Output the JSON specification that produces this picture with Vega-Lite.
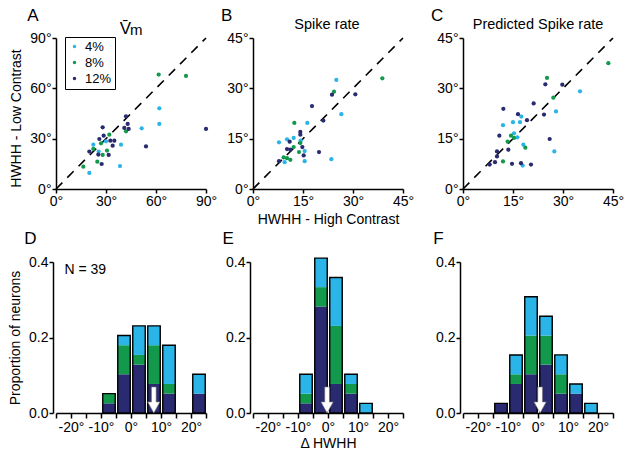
{
  "$schema": "https://vega.github.io/schema/vega-lite/v6.json",
  "padding": {"left": 8, "top": 6, "right": 2, "bottom": 2},
  "config": {
    "font": "Liberation Sans",
    "view": {"stroke": null},
    "axis": {"grid": false, "domainColor": "black", "domainWidth": 1.5, "tickColor": "black", "tickWidth": 1.5, "tickSize": 4, "labelFontSize": 14, "labelColor": "black", "labelFont": "Liberation Sans", "titleFont": "Liberation Sans", "titleFontSize": 14, "titleFontWeight": "normal", "titleColor": "black", "labelPadding": 1, "labelFlush": false, "labelOverlap": false, "labelBound": false},
    "text": {"font": "Liberation Sans", "color": "black"}
  },
  "columns": 3,
  "spacing": {"row": 73, "column": 47},
  "bounds": "flush",
  "resolve": {"scale": {"color": "independent"}},
  "datasets": {
    "A": [
      {"con": 4, "x": 62, "y": 48.1}, {"con": 4, "x": 62, "y": 38.8}, {"con": 4, "x": 51.4, "y": 36.2}, {"con": 4, "x": 30, "y": 28.4}, {"con": 4, "x": 22.4, "y": 26.4}, {"con": 4, "x": 39, "y": 26.4}, {"con": 4, "x": 25.6, "y": 22.3}, {"con": 4, "x": 38.4, "y": 13.7}, {"con": 4, "x": 20, "y": 9.6},
      {"con": 8, "x": 61.6, "y": 68.2}, {"con": 8, "x": 78, "y": 67.4}, {"con": 8, "x": 42, "y": 34.4}, {"con": 8, "x": 32, "y": 32.4}, {"con": 8, "x": 27, "y": 27.2}, {"con": 8, "x": 22.4, "y": 23.9}, {"con": 8, "x": 30.6, "y": 22.9}, {"con": 8, "x": 28, "y": 20.3}, {"con": 8, "x": 24.8, "y": 16.3}, {"con": 8, "x": 16.4, "y": 13.3},
      {"con": 12, "x": 42, "y": 43.3}, {"con": 12, "x": 43, "y": 38.8}, {"con": 12, "x": 41, "y": 36.4}, {"con": 12, "x": 43.6, "y": 35.8}, {"con": 12, "x": 90, "y": 35.8}, {"con": 12, "x": 28, "y": 36.8}, {"con": 12, "x": 28.6, "y": 31.8}, {"con": 12, "x": 26, "y": 29.8}, {"con": 12, "x": 32.6, "y": 28.8}, {"con": 12, "x": 35, "y": 28.8}, {"con": 12, "x": 34, "y": 25.8}, {"con": 12, "x": 54, "y": 25.4}, {"con": 12, "x": 20, "y": 22.3}, {"con": 12, "x": 25.4, "y": 20.5}, {"con": 12, "x": 31.6, "y": 20.3}, {"con": 12, "x": 27.4, "y": 14.9}
    ],
    "B": [
      {"con": 4, "x": 25, "y": 32.5}, {"con": 4, "x": 26.5, "y": 22.3}, {"con": 4, "x": 16.3, "y": 19.7}, {"con": 4, "x": 7.8, "y": 13.9}, {"con": 4, "x": 10.2, "y": 14.8}, {"con": 4, "x": 12.2, "y": 15.2}, {"con": 4, "x": 14.3, "y": 14.4}, {"con": 4, "x": 15.5, "y": 11.3}, {"con": 4, "x": 23.5, "y": 8.9}, {"con": 4, "x": 15.5, "y": 8.3}, {"con": 4, "x": 9.5, "y": 8.0},
      {"con": 8, "x": 38.8, "y": 33.0}, {"con": 8, "x": 24.3, "y": 29.0}, {"con": 8, "x": 12.4, "y": 19.7}, {"con": 8, "x": 14.2, "y": 13.7}, {"con": 8, "x": 12.2, "y": 12.5}, {"con": 8, "x": 13.8, "y": 11.0}, {"con": 8, "x": 9.2, "y": 9.4}, {"con": 8, "x": 10.2, "y": 9.2}, {"con": 8, "x": 11.2, "y": 8.7},
      {"con": 12, "x": 23.7, "y": 28.1}, {"con": 12, "x": 30.7, "y": 28.2}, {"con": 12, "x": 17.7, "y": 24.7}, {"con": 12, "x": 21.1, "y": 20.4}, {"con": 12, "x": 14.2, "y": 17.0}, {"con": 12, "x": 14.2, "y": 16.2}, {"con": 12, "x": 11, "y": 14.1}, {"con": 12, "x": 10.2, "y": 11.9}, {"con": 12, "x": 11.2, "y": 11.7}, {"con": 12, "x": 14.8, "y": 12.5}, {"con": 12, "x": 15.2, "y": 10.0}, {"con": 12, "x": 19.8, "y": 11.0}, {"con": 12, "x": 7.8, "y": 8.3}
    ],
    "C": [
      {"con": 4, "x": 35.1, "y": 29.1}, {"con": 4, "x": 17.5, "y": 21.6}, {"con": 4, "x": 27.9, "y": 23.1}, {"con": 4, "x": 15.0, "y": 19.9}, {"con": 4, "x": 17.1, "y": 19.9}, {"con": 4, "x": 12.0, "y": 19.0}, {"con": 4, "x": 15.3, "y": 16.6}, {"con": 4, "x": 16.3, "y": 15.4}, {"con": 4, "x": 18.1, "y": 13.2}, {"con": 4, "x": 27.4, "y": 11.2}, {"con": 4, "x": 17.9, "y": 7.0},
      {"con": 8, "x": 43.6, "y": 37.5}, {"con": 8, "x": 25.2, "y": 33.1}, {"con": 8, "x": 27.1, "y": 27.2}, {"con": 8, "x": 14.4, "y": 15.9}, {"con": 8, "x": 15.3, "y": 15.2}, {"con": 8, "x": 13.4, "y": 14.1}, {"con": 8, "x": 18.7, "y": 12.3}, {"con": 8, "x": 12.0, "y": 8.2},
      {"con": 12, "x": 24.7, "y": 31.2}, {"con": 12, "x": 29.8, "y": 31.1}, {"con": 12, "x": 21.2, "y": 25.5}, {"con": 12, "x": 12.1, "y": 23.9}, {"con": 12, "x": 16.5, "y": 22.3}, {"con": 12, "x": 19.2, "y": 20.5}, {"con": 12, "x": 24.3, "y": 22.2}, {"con": 12, "x": 10.9, "y": 15.9}, {"con": 12, "x": 26.0, "y": 14.9}, {"con": 12, "x": 13.6, "y": 11.7}, {"con": 12, "x": 10.2, "y": 11.2}, {"con": 12, "x": 10.2, "y": 9.7}, {"con": 12, "x": 9.6, "y": 8.0}, {"con": 12, "x": 8.0, "y": 7.3}, {"con": 12, "x": 14.7, "y": 7.5}, {"con": 12, "x": 17.4, "y": 7.7}, {"con": 12, "x": 20.4, "y": 7.3}
    ],
    "D": [
      {"lo": -10, "hi": -5, "con": 12, "p": 0.0256}, {"lo": -10, "hi": -5, "con": 8, "p": 0.0256},
      {"lo": -5, "hi": 0, "con": 12, "p": 0.1026}, {"lo": -5, "hi": 0, "con": 8, "p": 0.0769}, {"lo": -5, "hi": 0, "con": 4, "p": 0.0256},
      {"lo": 0, "hi": 5, "con": 12, "p": 0.1282}, {"lo": 0, "hi": 5, "con": 8, "p": 0.0256}, {"lo": 0, "hi": 5, "con": 4, "p": 0.0769},
      {"lo": 5, "hi": 10, "con": 12, "p": 0.0769}, {"lo": 5, "hi": 10, "con": 8, "p": 0.1026}, {"lo": 5, "hi": 10, "con": 4, "p": 0.0513},
      {"lo": 10, "hi": 15, "con": 12, "p": 0.0513}, {"lo": 10, "hi": 15, "con": 8, "p": 0.0256}, {"lo": 10, "hi": 15, "con": 4, "p": 0.1026},
      {"lo": 20, "hi": 25, "con": 12, "p": 0.0513}, {"lo": 20, "hi": 25, "con": 4, "p": 0.0513}
    ],
    "E": [
      {"lo": -10, "hi": -5, "con": 12, "p": 0.0256}, {"lo": -10, "hi": -5, "con": 8, "p": 0.0256}, {"lo": -10, "hi": -5, "con": 4, "p": 0.0513},
      {"lo": -5, "hi": 0, "con": 12, "p": 0.2821}, {"lo": -5, "hi": 0, "con": 8, "p": 0.0513}, {"lo": -5, "hi": 0, "con": 4, "p": 0.0769},
      {"lo": 0, "hi": 5, "con": 12, "p": 0.0769}, {"lo": 0, "hi": 5, "con": 8, "p": 0.1538}, {"lo": 0, "hi": 5, "con": 4, "p": 0.1282},
      {"lo": 5, "hi": 10, "con": 12, "p": 0.0513}, {"lo": 5, "hi": 10, "con": 8, "p": 0.0256}, {"lo": 5, "hi": 10, "con": 4, "p": 0.0256},
      {"lo": 10, "hi": 15, "con": 4, "p": 0.0256}
    ],
    "F": [
      {"lo": -15, "hi": -10, "con": 12, "p": 0.0256},
      {"lo": -10, "hi": -5, "con": 12, "p": 0.0769}, {"lo": -10, "hi": -5, "con": 8, "p": 0.0256}, {"lo": -10, "hi": -5, "con": 4, "p": 0.0513},
      {"lo": -5, "hi": 0, "con": 12, "p": 0.1026}, {"lo": -5, "hi": 0, "con": 8, "p": 0.1026}, {"lo": -5, "hi": 0, "con": 4, "p": 0.1026},
      {"lo": 0, "hi": 5, "con": 12, "p": 0.1282}, {"lo": 0, "hi": 5, "con": 8, "p": 0.0769}, {"lo": 0, "hi": 5, "con": 4, "p": 0.0513},
      {"lo": 5, "hi": 10, "con": 12, "p": 0.0513}, {"lo": 5, "hi": 10, "con": 8, "p": 0.0513}, {"lo": 5, "hi": 10, "con": 4, "p": 0.0513},
      {"lo": 10, "hi": 15, "con": 12, "p": 0.0513}, {"lo": 10, "hi": 15, "con": 4, "p": 0.0256},
      {"lo": 15, "hi": 20, "con": 4, "p": 0.0256}
    ]
  },
  "concat": [
    {
      "width": 150, "height": 151,
      "layer": [
        {"data": {"values": [{"x": 0, "y": 0, "x2": 90, "y2": 90}]}, "mark": {"type": "rule", "strokeDash": [9, 7], "strokeWidth": 1.6, "color": "black"},
         "encoding": {
           "x": {"field": "x", "type": "quantitative", "scale": {"domain": [0, 90], "nice": false}, "axis": {"values": [0, 30, 60, 90], "labelExpr": "datum.value + '°'", "title": null}},
           "y": {"field": "y", "type": "quantitative", "scale": {"domain": [0, 90], "nice": false}, "axis": {"values": [0, 30, 60, 90], "labelExpr": "datum.value + '°'", "title": "HWHH - Low Contrast", "titlePadding": 6, "titleY": 80}},
           "x2": {"field": "x2"}, "y2": {"field": "y2"}}},
        {"data": {"name": "A"}, "mark": {"type": "point", "filled": true, "size": 18, "opacity": 1},
         "encoding": {
           "x": {"field": "x", "type": "quantitative"}, "y": {"field": "y", "type": "quantitative"},
           "color": {"field": "con", "type": "ordinal", "scale": {"domain": [4, 8, 12], "range": ["#2ab4e8", "#12994c", "#292a6f"]},
             "legend": {"orient": "none", "legendX": 9, "legendY": -1, "title": null, "strokeColor": "black", "padding": 3, "labelFontSize": 13, "labelFont": "Liberation Sans", "labelColor": "black", "symbolType": "circle", "symbolSize": 12, "rowPadding": 2, "labelOffset": 4, "labelExpr": "datum.label + '%'"}}}},
        {"data": {"values": [{}]}, "mark": {"type": "text", "text": "A", "fontSize": 17, "align": "left", "baseline": "alphabetic"},
         "encoding": {"x": {"datum": -17.2, "type": "quantitative"}, "y": {"datum": 100.3, "type": "quantitative"}}},
        {"data": {"values": [{}]}, "mark": {"type": "text", "text": "V\u0304", "fontSize": 17, "align": "center", "baseline": "alphabetic"},
         "encoding": {"x": {"datum": 41.6, "type": "quantitative"}, "y": {"datum": 92.6, "type": "quantitative"}}},
        {"data": {"values": [{}]}, "mark": {"type": "text", "text": "m", "fontSize": 15, "align": "center", "baseline": "alphabetic"},
         "encoding": {"x": {"datum": 48.2, "type": "quantitative"}, "y": {"datum": 91.6, "type": "quantitative"}}}
      ]
    },
    {
      "width": 163, "height": 151,
      "layer": [
        {"data": {"values": [{"x": 0, "y": 0, "x2": 45, "y2": 45}]}, "mark": {"type": "rule", "strokeDash": [9, 7], "strokeWidth": 1.6, "color": "black"},
         "encoding": {
           "x": {"field": "x", "type": "quantitative", "scale": {"domain": [0, 45], "nice": false, "range": [0, 150]}, "axis": {"values": [0, 15, 30, 45], "labelExpr": "datum.value + '°'", "title": "HWHH - High Contrast", "titleX": 75, "titlePadding": 4}},
           "y": {"field": "y", "type": "quantitative", "scale": {"domain": [0, 45], "nice": false}, "axis": {"values": [0, 15, 30, 45], "labelExpr": "datum.value + '°'", "title": null}},
           "x2": {"field": "x2"}, "y2": {"field": "y2"}}},
        {"data": {"name": "B"}, "mark": {"type": "point", "filled": true, "size": 18, "opacity": 1},
         "encoding": {
           "x": {"field": "x", "type": "quantitative"}, "y": {"field": "y", "type": "quantitative"},
           "color": {"field": "con", "type": "ordinal", "scale": {"domain": [4, 8, 12], "range": ["#2ab4e8", "#12994c", "#292a6f"]}, "legend": null}}},
        {"data": {"values": [{}]}, "mark": {"type": "text", "text": "B", "fontSize": 17, "align": "left", "baseline": "alphabetic"},
         "encoding": {"x": {"datum": -9.6, "type": "quantitative"}, "y": {"datum": 50.2, "type": "quantitative"}}},
        {"data": {"values": [{}]}, "mark": {"type": "text", "text": "Spike rate", "fontSize": 14.5, "align": "center", "baseline": "alphabetic"},
         "encoding": {"x": {"datum": 22.2, "type": "quantitative"}, "y": {"datum": 47.8, "type": "quantitative"}}}
      ]
    },
    {
      "width": 150, "height": 151,
      "layer": [
        {"data": {"values": [{"x": 0, "y": 0, "x2": 45, "y2": 45}]}, "mark": {"type": "rule", "strokeDash": [9, 7], "strokeWidth": 1.6, "color": "black"},
         "encoding": {
           "x": {"field": "x", "type": "quantitative", "scale": {"domain": [0, 45], "nice": false}, "axis": {"values": [0, 15, 30, 45], "labelExpr": "datum.value + '°'", "title": null}},
           "y": {"field": "y", "type": "quantitative", "scale": {"domain": [0, 45], "nice": false}, "axis": {"values": [0, 15, 30, 45], "labelExpr": "datum.value + '°'", "title": null}},
           "x2": {"field": "x2"}, "y2": {"field": "y2"}}},
        {"data": {"name": "C"}, "mark": {"type": "point", "filled": true, "size": 18, "opacity": 1},
         "encoding": {
           "x": {"field": "x", "type": "quantitative"}, "y": {"field": "y", "type": "quantitative"},
           "color": {"field": "con", "type": "ordinal", "scale": {"domain": [4, 8, 12], "range": ["#2ab4e8", "#12994c", "#292a6f"]}, "legend": null}}},
        {"data": {"values": [{}]}, "mark": {"type": "text", "text": "C", "fontSize": 17, "align": "left", "baseline": "alphabetic"},
         "encoding": {"x": {"datum": -9.6, "type": "quantitative"}, "y": {"datum": 50, "type": "quantitative"}}},
        {"data": {"values": [{}]}, "mark": {"type": "text", "text": "Predicted Spike rate", "fontSize": 14.5, "align": "center", "baseline": "alphabetic"},
         "encoding": {"x": {"datum": 22.5, "type": "quantitative"}, "y": {"datum": 47.8, "type": "quantitative"}}}
      ]
    },
    {
      "width": 150, "height": 151,
      "layer": [
        {"data": {"name": "D"}, "mark": {"type": "bar", "binSpacing": 2.5},
         "encoding": {
           "x": {"field": "lo", "type": "quantitative", "bin": {"binned": true, "step": 5}, "scale": {"domain": [-25, 25], "nice": false}, "axis": {"values": [-25, -20, -15, -10, -5, 0, 5, 10, 15, 20, 25], "labelExpr": "datum.value % 10 == 0 ? datum.value + '°' : ''", "title": null, "tickSize": 5, "labelPadding": 2}},
           "x2": {"field": "hi"},
           "y": {"field": "p", "type": "quantitative", "stack": "zero", "scale": {"domain": [0, 0.4], "nice": false}, "axis": {"values": [0, 0.2, 0.4], "format": ".1f", "title": "Proportion of neurons", "offset": 3, "titlePadding": 6}},
           "color": {"field": "con", "type": "ordinal", "scale": {"domain": [4, 8, 12], "range": ["#2ab4e8", "#12994c", "#292a6f"]}, "legend": null},
           "order": {"field": "con", "type": "quantitative", "sort": "descending"}}},
        {"data": {"name": "D"}, "mark": {"type": "bar", "binSpacing": 2.5, "fillOpacity": 0, "stroke": "black", "strokeWidth": 1.4},
         "encoding": {
           "x": {"field": "lo", "type": "quantitative", "bin": {"binned": true, "step": 5}},
           "x2": {"field": "hi"},
           "y": {"aggregate": "sum", "field": "p", "type": "quantitative"}}},
        {"data": {"values": [{"x": 7.6, "y": 0.0345}]}, "mark": {"type": "point", "filled": true, "shape": "M-0.18,-1L0.18,-1L0.18,0.15L0.47,0.15L0,1L-0.47,0.15L-0.18,0.15Z", "size": 676, "fill": "white", "stroke": "#777", "strokeWidth": 0.6, "opacity": 1},
         "encoding": {"x": {"field": "x", "type": "quantitative"}, "y": {"field": "y", "type": "quantitative"}}},
        {"data": {"values": [{}]}, "mark": {"type": "text", "text": "N = 39", "fontSize": 14, "align": "left", "baseline": "alphabetic"},
         "encoding": {"x": {"datum": -22.2, "type": "quantitative"}, "y": {"datum": 0.369, "type": "quantitative"}}},
        {"data": {"values": [{}]}, "mark": {"type": "text", "text": "D", "fontSize": 17, "align": "left", "baseline": "alphabetic"},
         "encoding": {"x": {"datum": -35.6, "type": "quantitative"}, "y": {"datum": 0.447, "type": "quantitative"}}}
      ]
    },
    {
      "width": 163, "height": 151,
      "layer": [
        {"data": {"name": "E"}, "mark": {"type": "bar", "binSpacing": 2.5},
         "encoding": {
           "x": {"field": "lo", "type": "quantitative", "bin": {"binned": true, "step": 5}, "scale": {"domain": [-25, 25], "nice": false, "range": [0, 150]}, "axis": {"values": [-25, -20, -15, -10, -5, 0, 5, 10, 15, 20, 25], "labelExpr": "datum.value % 10 == 0 ? datum.value + '°' : ''", "title": "Δ HWHH", "titleX": 75, "titlePadding": 2, "tickSize": 5, "labelPadding": 2}},
           "x2": {"field": "hi"},
           "y": {"field": "p", "type": "quantitative", "stack": "zero", "scale": {"domain": [0, 0.4], "nice": false}, "axis": {"values": [0, 0.2, 0.4], "format": ".1f", "title": null, "offset": 3}},
           "color": {"field": "con", "type": "ordinal", "scale": {"domain": [4, 8, 12], "range": ["#2ab4e8", "#12994c", "#292a6f"]}, "legend": null},
           "order": {"field": "con", "type": "quantitative", "sort": "descending"}}},
        {"data": {"name": "E"}, "mark": {"type": "bar", "binSpacing": 2.5, "fillOpacity": 0, "stroke": "black", "strokeWidth": 1.4},
         "encoding": {
           "x": {"field": "lo", "type": "quantitative", "bin": {"binned": true, "step": 5}},
           "x2": {"field": "hi"},
           "y": {"aggregate": "sum", "field": "p", "type": "quantitative"}}},
        {"data": {"values": [{"x": -0.3, "y": 0.0345}]}, "mark": {"type": "point", "filled": true, "shape": "M-0.18,-1L0.18,-1L0.18,0.15L0.47,0.15L0,1L-0.47,0.15L-0.18,0.15Z", "size": 676, "fill": "white", "stroke": "#777", "strokeWidth": 0.6, "opacity": 1},
         "encoding": {"x": {"field": "x", "type": "quantitative"}, "y": {"field": "y", "type": "quantitative"}}},
        {"data": {"values": [{}]}, "mark": {"type": "text", "text": "E", "fontSize": 17, "align": "left", "baseline": "alphabetic"},
         "encoding": {"x": {"datum": -35.2, "type": "quantitative"}, "y": {"datum": 0.447, "type": "quantitative"}}}
      ]
    },
    {
      "width": 150, "height": 151,
      "layer": [
        {"data": {"name": "F"}, "mark": {"type": "bar", "binSpacing": 2.5},
         "encoding": {
           "x": {"field": "lo", "type": "quantitative", "bin": {"binned": true, "step": 5}, "scale": {"domain": [-25, 25], "nice": false}, "axis": {"values": [-25, -20, -15, -10, -5, 0, 5, 10, 15, 20, 25], "labelExpr": "datum.value % 10 == 0 ? datum.value + '°' : ''", "title": null, "tickSize": 5, "labelPadding": 2}},
           "x2": {"field": "hi"},
           "y": {"field": "p", "type": "quantitative", "stack": "zero", "scale": {"domain": [0, 0.4], "nice": false}, "axis": {"values": [0, 0.2, 0.4], "format": ".1f", "title": null, "offset": 3}},
           "color": {"field": "con", "type": "ordinal", "scale": {"domain": [4, 8, 12], "range": ["#2ab4e8", "#12994c", "#292a6f"]}, "legend": null},
           "order": {"field": "con", "type": "quantitative", "sort": "descending"}}},
        {"data": {"name": "F"}, "mark": {"type": "bar", "binSpacing": 2.5, "fillOpacity": 0, "stroke": "black", "strokeWidth": 1.4},
         "encoding": {
           "x": {"field": "lo", "type": "quantitative", "bin": {"binned": true, "step": 5}},
           "x2": {"field": "hi"},
           "y": {"aggregate": "sum", "field": "p", "type": "quantitative"}}},
        {"data": {"values": [{"x": 0.7, "y": 0.0345}]}, "mark": {"type": "point", "filled": true, "shape": "M-0.18,-1L0.18,-1L0.18,0.15L0.47,0.15L0,1L-0.47,0.15L-0.18,0.15Z", "size": 676, "fill": "white", "stroke": "#777", "strokeWidth": 0.6, "opacity": 1},
         "encoding": {"x": {"field": "x", "type": "quantitative"}, "y": {"field": "y", "type": "quantitative"}}},
        {"data": {"values": [{}]}, "mark": {"type": "text", "text": "F", "fontSize": 17, "align": "left", "baseline": "alphabetic"},
         "encoding": {"x": {"datum": -34.9, "type": "quantitative"}, "y": {"datum": 0.447, "type": "quantitative"}}}
      ]
    }
  ]
}
